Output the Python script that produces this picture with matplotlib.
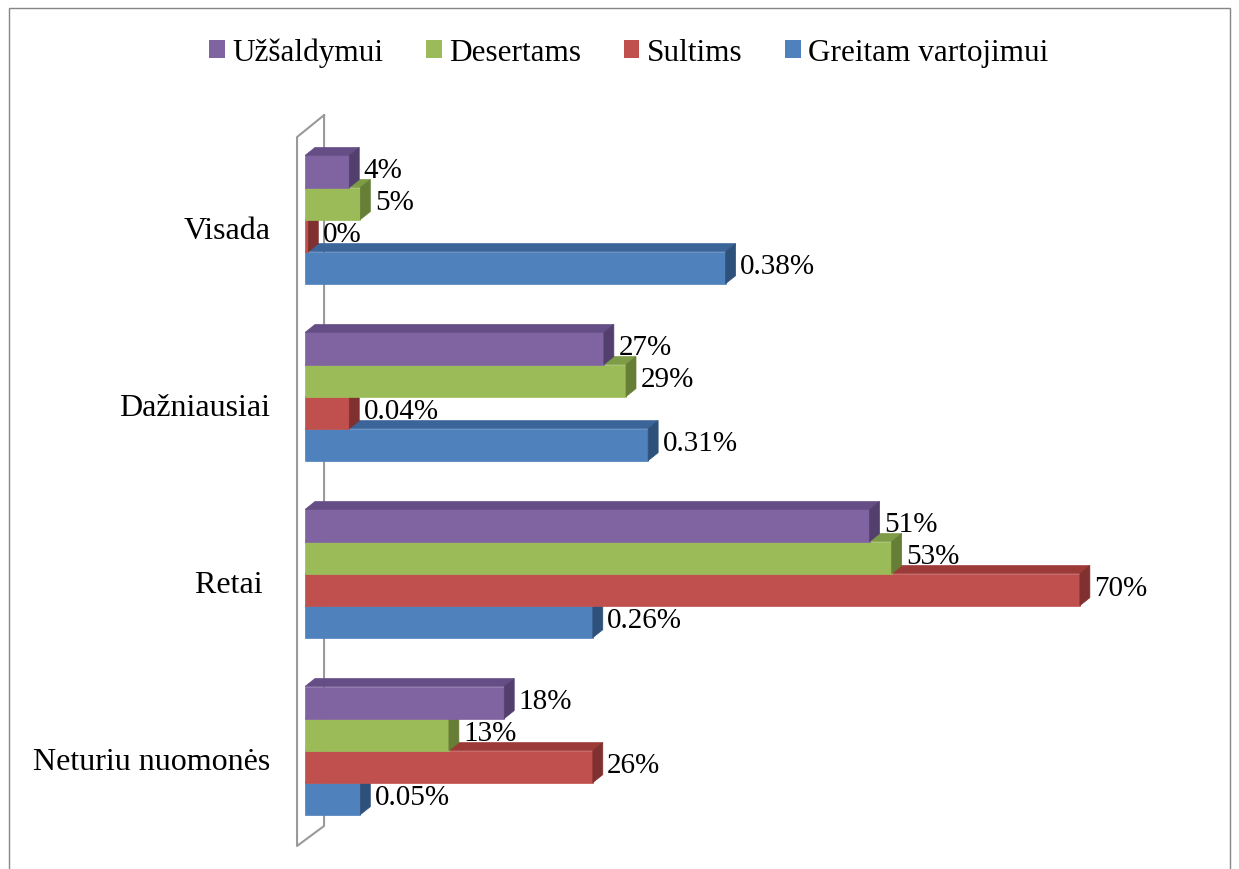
import matplotlib
matplotlib.use('Agg')
import matplotlib.pyplot as plt
from matplotlib.patches import Polygon, Patch, Rectangle

plt.rcParams['font.family'] = ['Liberation Serif', 'DejaVu Serif']

# data
categories = ['Visada', 'Dažniausiai', 'Retai ', 'Neturiu nuomonės']
series_names = ['Užšaldymui', 'Desertams', 'Sultims', 'Greitam vartojimui']
uzsaldymui = [4, 27, 51, 18]
desertams = [5, 29, 53, 13]
sultims = [0.3, 4, 70, 26]
greitam = [38, 31, 26, 5]
labels_uzsaldymui = ['4%', '27%', '51%', '18%']
labels_desertams = ['5%', '29%', '53%', '13%']
labels_sultims = ['0%', '0.04%', '70%', '26%']
labels_greitam = ['0.38%', '0.31%', '0.26%', '0.05%']

series = [uzsaldymui, desertams, sultims, greitam]
series_labels = [labels_uzsaldymui, labels_desertams, labels_sultims, labels_greitam]
# front, top face, side face
colors = [('#8064A2', '#654E85', '#533F6E'),
          ('#9BBB59', '#7E9B46', '#667E36'),
          ('#C0504D', '#9C3A38', '#80302E'),
          ('#4F81BD', '#3B6498', '#2E517C')]

W, H = 1239, 870
fig = plt.figure(figsize=(W / 100, H / 100), dpi=100)
ax = fig.add_axes([305 / W, 0, 885.6 / W, 1])
ax.set_xlim(0, 80)
ax.set_ylim(3.669, -1.246)

h = 0.181      # bar thickness
dx = 0.9       # 3d depth in x
dy = 0.045     # 3d depth in y
offsets = [-1.5, -0.5, 0.5, 1.5]

# draw lowest bar first so upper bars hide its top face
for k in [3, 2, 1, 0]:
    front, top, side = colors[k]
    z = 10 - k
    for i, v in enumerate(series[k]):
        y = i + offsets[k] * h
        ax.barh(y, v, height=h, color=front, edgecolor=front, linewidth=0.5, zorder=z)
        y0 = y - h / 2
        ax.add_patch(Polygon([(0, y0), (v, y0), (v + dx, y0 - dy), (dx, y0 - dy)],
                             closed=True, facecolor=top, edgecolor=top, lw=0.5, zorder=z))
        ax.add_patch(Polygon([(v, y0), (v + dx, y0 - dy), (v + dx, y0 + h - dy), (v, y0 + h)],
                             closed=True, facecolor=side, edgecolor=side, lw=0.5, zorder=z))
        ax.text(v + dx + 0.4, y - 0.01, series_labels[k][i], ha='left', va='center',
                fontsize=21, color='black', zorder=20)

# side wall outline
wall_x = [1.72, -0.72, -0.72, 1.72, 1.72]
wall_y = [-0.590, -0.466, 3.539, 3.426, -0.590]
ax.plot(wall_x, wall_y, color='#9A9A9A', lw=1.5, zorder=0, clip_on=False)

ax.set_yticks([i + 0.04 for i in range(len(categories))])
ax.set_yticklabels(categories, fontsize=23)
ax.tick_params(axis='y', length=0, pad=25)
ax.set_xticks([])
for s in ax.spines.values():
    s.set_visible(False)

handles = [Patch(facecolor=c[0]) for c in colors]
fig.legend(handles, series_names, loc='center', bbox_to_anchor=(629 / W, 1 - 53 / H),
           ncol=4, frameon=False, fontsize=22.5, handlelength=0.5, handleheight=0.5,
           handletextpad=0.25, columnspacing=1.35)

fig.add_artist(Rectangle((9 / W, -0.01), (1230 - 9) / W, 1 - 9 / H + 0.01,
                         transform=fig.transFigure, fill=False, edgecolor='#868686', lw=1))

fig.savefig('out.png', dpi=100)
